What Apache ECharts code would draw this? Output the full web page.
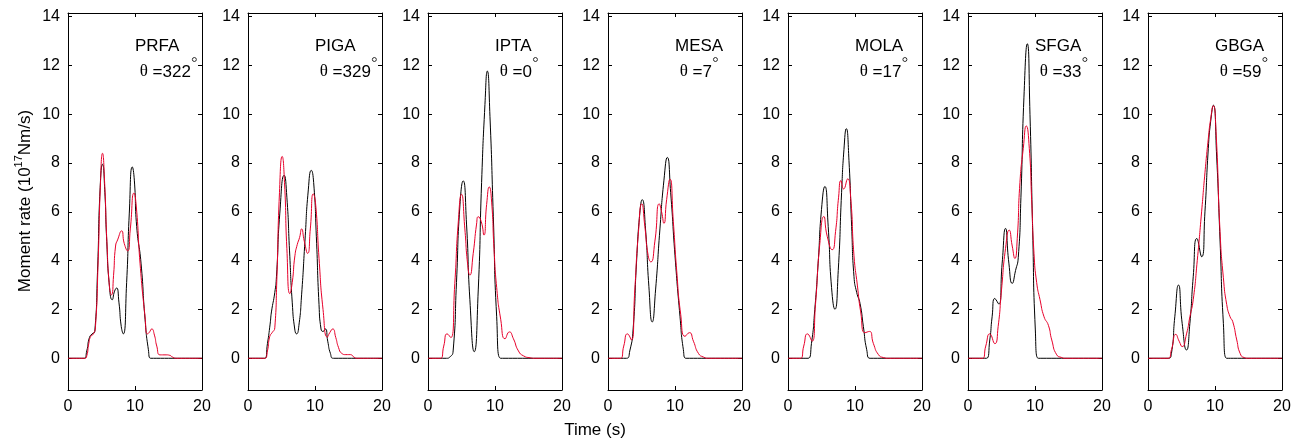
<!DOCTYPE html>
<html>
<head>
<meta charset="utf-8">
<script src="https://cdn.jsdelivr.net/npm/echarts@6/dist/echarts.min.js"></script>
<style>
html,body{margin:0;padding:0;background:#fff;}
#chart{width:1301px;height:441px;}
</style>
</head>
<body>
<div id="chart"></div>
<script>
// ---------------- DATA ----------------
const stations = ['PRFA', 'PIGA', 'IPTA', 'MESA', 'MOLA', 'SFGA', 'GBGA'];
const azimuths = [322, 329, 0, 7, 17, 33, 59];
const xTicks = [0, 10, 20];
const yTicks = [0, 2, 4, 6, 8, 10, 12, 14];

// [time (s), moment rate (1e17 Nm/s)]
const prfaBlack = [[0,0],[2.4,0],[2.8,0.3],[3.2,0.85],[3.6,1.0],[4.0,1.1],[4.4,3.5],[4.8,7.0],[5.15,7.95],[5.5,6.8],[5.75,5.0],[6.2,2.9],[6.6,2.4],[6.95,2.75],[7.25,2.88],[7.6,2.3],[7.95,1.3],[8.25,1.0],[8.75,3.1],[9.15,5.95],[9.6,7.84],[9.9,7.3],[10.25,5.4],[10.9,3.9],[11.5,1.6],[12.0,0.35],[12.35,0],[20,0]];
const prfaRed = [[0,0],[2.5,0],[2.8,0.1],[3.1,0.6],[3.4,0.9],[3.8,1.0],[4.1,1.3],[4.5,4.0],[4.85,7.2],[5.15,8.4],[5.45,7.3],[5.8,4.8],[6.2,2.9],[6.5,2.6],[6.8,3.4],[7.1,4.6],[7.4,4.85],[8.0,5.22],[8.4,4.7],[8.9,4.4],[9.3,5.3],[9.85,6.77],[10.2,6.2],[10.75,3.9],[11.5,1.7],[11.85,1.0],[12.1,1.05],[12.5,1.2],[12.9,0.95],[13.25,0.5],[13.75,0.14],[14.65,0.14],[15.2,0.12],[15.6,0.05],[16.2,0],[20,0]];

const pigaBlack = [[0,0],[2.5,0],[2.9,0.6],[3.3,1.4],[3.5,1.9],[4.0,2.7],[4.25,3.36],[4.75,5.95],[5.4,7.5],[5.8,6.6],[6.2,4.4],[6.6,2.3],[7.0,1.15],[7.25,1.0],[7.6,1.35],[8.0,2.6],[8.5,4.8],[9.0,6.9],[9.45,7.7],[9.8,7.2],[10.2,5.0],[10.6,2.2],[10.9,1.2],[11.2,1.1],[11.55,1.2],[11.9,0.7],[12.3,0.2],[12.75,0],[20,0]];
const pigaRed = [[0,0],[2.5,0],[2.9,0.3],[3.25,0.9],[3.6,1.05],[4.0,1.25],[4.3,3.2],[4.7,6.8],[5.1,8.27],[5.45,7.2],[5.8,4.5],[6.25,2.65],[6.6,3.1],[7.0,4.2],[7.35,4.66],[7.7,4.95],[8.0,5.3],[8.4,4.8],[8.9,4.3],[9.3,5.3],[9.75,6.74],[10.1,6.3],[10.6,4.1],[11.2,2.0],[11.85,0.87],[12.2,1.05],[12.65,1.2],[13.1,0.85],[13.5,0.45],[14.0,0.2],[14.6,0.15],[15.3,0.15],[15.8,0.05],[16.3,0],[20,0]];

const iptaBlack = [[0,0],[2.75,0],[3.25,0.05],[3.75,0.3],[4.25,3.1],[4.75,6.2],[5.25,7.27],[5.75,5.5],[6.25,2.4],[6.9,0.27],[7.5,2.8],[8.0,7.2],[8.5,10.4],[8.85,11.77],[9.25,9.9],[9.75,5.8],[10.25,1.7],[10.85,0],[20,0]];
const iptaRed = [[0,0],[1.85,0],[2.35,0.5],[2.85,1.0],[3.4,0.85],[4.0,3.07],[4.5,5.5],[5.0,6.72],[5.5,5.3],[5.9,3.9],[6.25,3.41],[6.75,4.3],[7.25,5.5],[7.5,5.8],[7.95,5.6],[8.35,5.05],[8.75,6.3],[9.15,7.02],[9.5,6.4],[9.85,4.5],[10.25,2.9],[10.85,1.6],[11.5,0.8],[12.15,1.08],[12.75,0.8],[13.5,0.3],[14.25,0.1],[15.25,0.02],[16,0],[20,0]];

const mesaBlack = [[0,0],[2.75,0],[3.25,0.3],[3.75,1.2],[4.25,3.9],[4.75,5.95],[5.1,6.5],[5.6,5.3],[6.1,2.95],[6.6,1.49],[7.1,2.8],[7.75,5.3],[8.35,7.3],[8.85,8.23],[9.35,6.8],[10.0,4.2],[10.75,1.7],[11.25,0.35],[11.65,0],[20,0]];
const mesaRed = [[0,0],[1.85,0],[2.35,0.5],[2.9,1.0],[3.5,0.75],[4.0,2.8],[4.5,5.0],[5.05,6.33],[5.5,5.4],[6.0,4.2],[6.4,3.95],[7.0,4.8],[7.65,6.33],[8.0,6.0],[8.35,5.53],[8.75,6.5],[9.25,7.34],[9.75,5.6],[10.25,3.6],[10.85,1.8],[11.5,0.9],[12.15,1.05],[12.75,0.7],[13.5,0.2],[14.25,0.05],[15,0],[20,0]];

const molaBlack = [[0,0],[3.0,0],[3.5,0.6],[4.0,2.0],[4.5,3.9],[5.0,6.1],[5.5,7.04],[6.0,5.4],[6.5,2.9],[7.0,2.01],[7.5,3.6],[8.0,6.8],[8.35,8.55],[8.7,9.41],[9.1,8.1],[9.5,5.4],[9.85,3.35],[10.25,2.7],[10.75,2.25],[11.25,1.3],[11.75,0.35],[12.25,0],[20,0]];
const molaRed = [[0,0],[1.85,0],[2.35,0.5],[2.9,1.0],[3.6,0.7],[4.1,2.2],[4.75,4.7],[5.35,5.81],[5.85,5.0],[6.6,4.45],[7.1,5.2],[7.55,6.6],[7.9,7.28],[8.3,6.94],[8.9,7.35],[9.35,6.6],[9.85,4.2],[10.35,3.0],[10.85,1.9],[11.5,1.05],[12.15,1.1],[12.75,0.6],[13.5,0.15],[14.25,0.03],[15,0],[20,0]];

const sfgaBlack = [[0,0],[2.75,0],[3.25,0.75],[3.6,1.7],[4.0,2.45],[4.6,2.22],[5.1,3.9],[5.6,5.32],[6.1,3.9],[6.6,3.07],[7.1,3.6],[7.5,4.12],[7.9,6.6],[8.35,10.7],[8.85,12.89],[9.25,10.0],[9.65,5.25],[10.05,1.16],[10.5,0],[20,0]];
const sfgaRed = [[0,0],[2.15,0],[2.65,0.5],[3.25,1.0],[4.0,0.6],[4.5,1.3],[5.0,2.8],[5.6,4.5],[6.15,5.25],[6.6,4.6],[7.0,4.09],[7.35,4.9],[7.75,7.2],[8.25,8.6],[8.7,9.52],[9.15,8.6],[9.5,6.5],[9.85,4.3],[10.25,3.1],[10.75,2.4],[11.35,1.7],[12.0,1.35],[12.5,0.75],[13.25,0.14],[14.0,0.03],[14.5,0],[20,0]];

const gbgaBlack = [[0,0],[3.0,0],[3.5,0.2],[4.0,1.7],[4.55,3.0],[5.1,1.43],[5.75,0.34],[6.25,1.43],[6.75,3.34],[7.3,4.91],[8.0,4.16],[8.5,6.0],[9.0,8.6],[9.35,9.7],[9.75,10.37],[10.25,8.25],[10.75,4.85],[11.25,1.43],[11.75,0],[20,0]];
const gbgaRed = [[0,0],[3.0,0],[3.5,0.35],[4.15,0.98],[4.65,0.7],[5.1,0.48],[5.75,1.0],[6.25,1.7],[6.75,2.4],[7.35,4.0],[8.0,6.0],[8.5,7.6],[9.0,9.0],[9.35,9.8],[9.75,10.35],[10.15,9.3],[10.75,5.2],[11.25,3.3],[11.75,2.2],[12.25,1.7],[12.65,1.5],[13.25,0.75],[13.75,0.2],[14.35,0.03],[15,0],[20,0]];

const blackSeries = [prfaBlack, pigaBlack, iptaBlack, mesaBlack, molaBlack, sfgaBlack, gbgaBlack];
const redSeries = [prfaRed, pigaRed, iptaRed, mesaRed, molaRed, sfgaRed, gbgaRed];

// ---------------- LAYOUT / STYLE ----------------
const FONT = '"Liberation Sans", Arial, Helvetica, sans-serif';
const SERIF = '"Liberation Serif", "Times New Roman", serif';
const RED = '#e8002a';
const Y_MIN = -1.3, Y_MAX = 14.15;
const GRID_TOP = 13, GRID_H = 377, GRID_W = 134, GRID_L0 = 68, GRID_STEP = 180;

const chart = echarts.init(document.getElementById('chart'), null, {renderer: 'canvas'});

const grids = [], xAxes = [], yAxes = [], series = [];
const axisLine = {show: true, onZero: false, lineStyle: {color: '#000', width: 1}};
for (let i = 0; i < stations.length; i++) {
  const L = GRID_L0 + GRID_STEP * i;
  grids.push({left: L, top: GRID_TOP, width: GRID_W, height: GRID_H, containLabel: false});
  xAxes.push({
    gridIndex: i, type: 'value', position: 'bottom', min: 0, max: 20, interval: 10,
    axisLine: axisLine,
    axisTick: {show: true, inside: true, length: 4, lineStyle: {color: '#000'}},
    axisLabel: {show: true, color: '#000', fontSize: 16, fontFamily: FONT, margin: 9},
    splitLine: {show: false}
  });
  xAxes.push({
    gridIndex: i, type: 'value', position: 'top', min: 0, max: 20, interval: 10,
    axisLine: axisLine,
    axisTick: {show: true, inside: true, length: 4, lineStyle: {color: '#000'}},
    axisLabel: {show: false}, splitLine: {show: false}
  });
  yAxes.push({
    gridIndex: i, type: 'value', position: 'left', min: Y_MIN, max: Y_MAX,
    axisLine: axisLine,
    axisTick: {show: true, inside: true, length: 4, lineStyle: {color: '#000'}, customValues: yTicks},
    axisLabel: {show: true, color: '#000', fontSize: 16, fontFamily: FONT, margin: 8, customValues: yTicks},
    splitLine: {show: false}
  });
  yAxes.push({
    gridIndex: i, type: 'value', position: 'right', min: Y_MIN, max: Y_MAX,
    axisLine: axisLine,
    axisTick: {show: true, inside: true, length: 4, lineStyle: {color: '#000'}, customValues: yTicks},
    axisLabel: {show: false, customValues: yTicks},
    splitLine: {show: false}
  });
  series.push({
    type: 'line', xAxisIndex: 2 * i, yAxisIndex: 2 * i, data: blackSeries[i],
    showSymbol: false, smooth: 0.6, silent: true,
    lineStyle: {color: '#000', width: 1}, z: 2
  });
  series.push({
    type: 'line', xAxisIndex: 2 * i, yAxisIndex: 2 * i, data: redSeries[i],
    showSymbol: false, smooth: 0.6, silent: true,
    lineStyle: {color: RED, width: 1}, z: 3
  });
}

// text measurement helper
const mctx = document.createElement('canvas').getContext('2d');
function tw(text, size, family) { mctx.font = size + 'px ' + family; return mctx.measureText(text).width; }

const graphics = [];
const pxPerSec = GRID_W / 20;
for (let i = 0; i < stations.length; i++) {
  const L = GRID_L0 + GRID_STEP * i;
  graphics.push({type: 'text', x: L + 10 * pxPerSec, y: 46,
    style: {text: stations[i], font: '17px ' + FONT, fill: '#000', textAlign: 'left', textVerticalAlign: 'middle'}});
  const tx = L + 10.7 * pxPerSec;
  const thetaW = tw('θ', 17, SERIF);
  const numStr = ' =' + azimuths[i];
  const numW = tw(numStr, 17, FONT);
  graphics.push({type: 'text', x: tx, y: 72,
    style: {text: 'θ', font: '17px ' + SERIF, fill: '#000', textAlign: 'left', textVerticalAlign: 'middle'}});
  graphics.push({type: 'text', x: tx + thetaW, y: 72,
    style: {text: numStr, font: '17px ' + FONT, fill: '#000', textAlign: 'left', textVerticalAlign: 'middle'}});
  graphics.push({type: 'circle', shape: {cx: tx + thetaW + numW + 3.5, cy: 59.5, r: 2},
    style: {fill: 'none', stroke: '#000', lineWidth: 0.8}});
}

// y-axis title (rotated), with superscript
const yl1 = 'Moment rate (10', yl2 = '17', yl3 = 'Nm/s)';
const w1 = tw(yl1, 17, FONT), w2 = tw(yl2, 11, FONT), w3 = tw(yl3, 17, FONT);
const totalW = w1 + w2 + w3;
graphics.push({
  type: 'group', x: 25, y: 201, rotation: Math.PI / 2,
  children: [
    {type: 'text', x: -totalW / 2, y: 0, style: {text: yl1, font: '17px ' + FONT, fill: '#000', textAlign: 'left', textVerticalAlign: 'middle'}},
    {type: 'text', x: -totalW / 2 + w1, y: -6, style: {text: yl2, font: '11px ' + FONT, fill: '#000', textAlign: 'left', textVerticalAlign: 'middle'}},
    {type: 'text', x: -totalW / 2 + w1 + w2, y: 0, style: {text: yl3, font: '17px ' + FONT, fill: '#000', textAlign: 'left', textVerticalAlign: 'middle'}}
  ]
});
// x-axis title
graphics.push({type: 'text', x: 595, y: 430,
  style: {text: 'Time (s)', font: '17px ' + FONT, fill: '#000', textAlign: 'center', textVerticalAlign: 'middle'}});

chart.setOption({
  animation: false,
  backgroundColor: '#fff',
  grid: grids, xAxis: xAxes, yAxis: yAxes, series: series,
  graphic: graphics
});
</script>
</body>
</html>
